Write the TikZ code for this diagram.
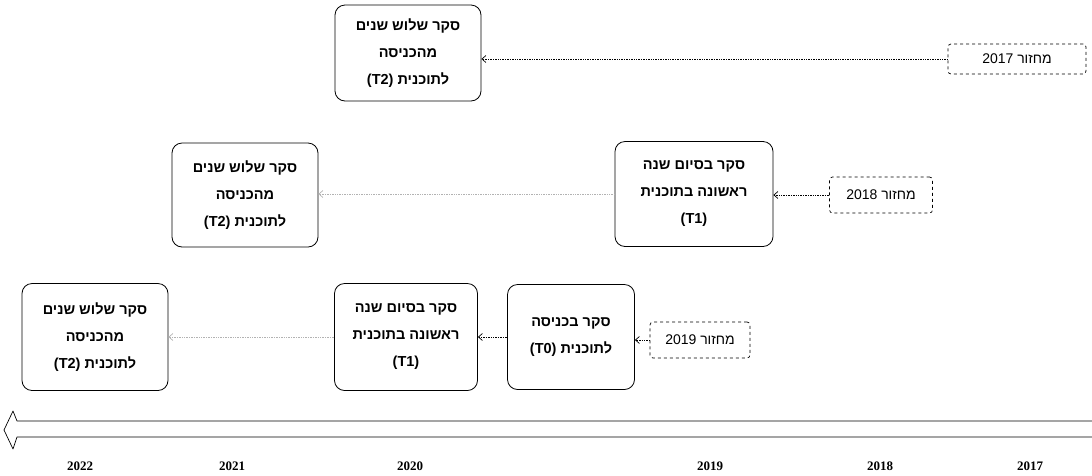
\documentclass[tikz,border=0pt]{standalone}
\usepackage{fontspec}
\setmainfont{Liberation Serif}
\newfontfamily\hebfont[Script=Hebrew]{Liberation Sans}
\TeXXeTstate=1
\newcommand\heb[1]{\beginR#1\endR}
\usetikzlibrary{arrows.meta}
\begin{document}
\begin{tikzpicture}[x=1pt,y=-1pt,
  box/.style={draw, rounded corners=10pt, line width=0.8pt, align=center, inner sep=0pt,
    font=\hebfont\bfseries\fontsize{14.5}{27}\selectfont},
  lbl/.style={draw, dashed, rounded corners=3pt, line width=0.7pt, inner sep=0pt,
    font=\hebfont\fontsize{14}{16}\selectfont},
  conn/.style={densely dotted, line width=0.7pt, -{Straight Barb[length=4pt,width=7pt]}},
  yr/.style={font=\bfseries\fontsize{13}{15}\selectfont}]
\useasboundingbox (0,0) rectangle (1092,475);

\node[box, minimum width=146pt, minimum height=96pt] (top) at (408,53)
  {\heb{סקר שלוש שנים}\\\heb{מהכניסה}\\\heb{לתוכנית \beginL(T2)\endL}};
\node[box, minimum width=146pt, minimum height=104pt] (ml) at (245,195)
  {\heb{סקר שלוש שנים}\\\heb{מהכניסה}\\\heb{לתוכנית \beginL(T2)\endL}};
\node[box, minimum width=146pt, minimum height=107pt] (bl) at (95,337)
  {\heb{סקר שלוש שנים}\\\heb{מהכניסה}\\\heb{לתוכנית \beginL(T2)\endL}};
\node[box, minimum width=143pt, minimum height=107pt] (bm) at (406,337)
  {\heb{סקר בסיום שנה}\\\heb{ראשונה בתוכנית}\\\heb{\beginL(T1)\endL}};
\node[box, minimum width=158pt, minimum height=105pt] (mr) at (694,194)
  {\heb{סקר בסיום שנה}\\\heb{ראשונה בתוכנית}\\\heb{\beginL(T1)\endL}};
\node[box, minimum width=127pt, minimum height=105pt] (t0) at (571,337)
  {\heb{סקר בכניסה}\\\heb{לתוכנית \beginL(T0)\endL}};

\node[lbl, minimum width=138pt, minimum height=30pt] (l17) at (1017,59) {\heb{מחזור \beginL2017\endL}};
\node[lbl, minimum width=103pt, minimum height=36pt] (l18) at (881,195) {\heb{מחזור \beginL2018\endL}};
\node[lbl, minimum width=100pt, minimum height=36pt] (l19) at (700,340) {\heb{מחזור \beginL2019\endL}};

\draw[conn] (l17.west) -- (top.east |- l17.west);
\draw[conn] (l18.west) -- (mr.east |- l18.west);
\draw[conn] (l19.west) -- (t0.east |- l19.west);
\draw[conn] (t0.west) -- (bm.east |- t0.west);
\draw[conn, gray!60] (mr.west) -- (ml.east |- mr.west);
\draw[conn, gray!60] (bm.west) -- (bl.east |- bm.west);

\draw[line width=0.7pt, line join=round]
  (1092,421) -- (17,421) -- (13,411) -- (4,430) -- (13,449) -- (17,437) -- (1092,437);

\node[yr] (y22) at (80,466) {2022};
\node[yr] (y21) at (232,466) {2021};
\node[yr] (y20) at (410,466) {2020};
\node[yr] (y19) at (710,466) {2019};
\node[yr] (y18) at (880,466) {2018};
\node[yr] (y17) at (1030,466) {2017};
\end{tikzpicture}
\end{document}
